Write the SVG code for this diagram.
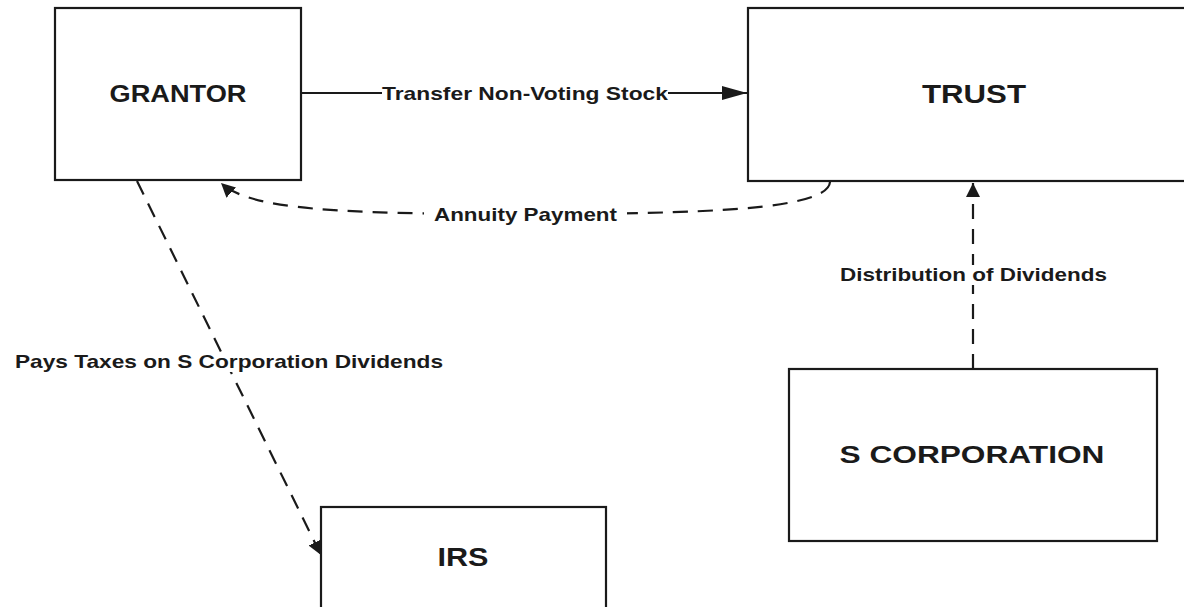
<svg xmlns="http://www.w3.org/2000/svg" width="1184" height="607" viewBox="0 0 1184 607">
<style>
.box{fill:#fff;stroke:#1a1a1a;stroke-width:2.2}
.lbl{font-family:"Liberation Sans",Arial,sans-serif;font-weight:bold;fill:#1a1a1a}
.node{text-anchor:middle}
.edge{fill:none;stroke:#1a1a1a;stroke-width:2.2}
.dash{stroke-dasharray:15 10}
.bg{fill:#fff}
</style>
<defs>
<marker id="arrowLong" markerUnits="userSpaceOnUse" markerWidth="26" markerHeight="16" refX="25" refY="7" orient="auto">
<path d="M0,0 L25,7 L0,14 Z" fill="#1a1a1a"/>
</marker>
<marker id="arrow" markerUnits="userSpaceOnUse" markerWidth="16" markerHeight="16" refX="14" refY="7" orient="auto">
<path d="M0,0 L14,7 L0,14 Z" fill="#1a1a1a"/>
</marker>
</defs>
<rect width="1184" height="607" fill="#fff"/>
<g id="grantor">
<rect class="box" x="55" y="8" width="246" height="172"/>
<text class="lbl node" x="178" y="102" font-size="23" textLength="137" lengthAdjust="spacingAndGlyphs">GRANTOR</text>
</g>
<g id="trust">
<rect class="box" x="748" y="8" width="450" height="173"/>
<text class="lbl node" x="974" y="103" font-size="26" textLength="104" lengthAdjust="spacingAndGlyphs">TRUST</text>
</g>
<g id="scorp">
<rect class="box" x="789" y="369" width="368" height="172"/>
<text class="lbl node" x="972" y="463" font-size="24" textLength="265" lengthAdjust="spacingAndGlyphs">S CORPORATION</text>
</g>
<g id="irs">
<rect class="box" x="321" y="507" width="285" height="110"/>
<text class="lbl node" x="463" y="566" font-size="26" textLength="51" lengthAdjust="spacingAndGlyphs">IRS</text>
</g>
<g id="connectors">
<line class="edge" x1="301" y1="93" x2="747" y2="93" marker-end="url(#arrowLong)"/>
<rect class="bg" x="382" y="84" width="286" height="20"/>
<text class="lbl" x="382" y="100" font-size="19" textLength="286" lengthAdjust="spacingAndGlyphs">Transfer Non-Voting Stock</text>

<path class="edge dash" d="M830,182 C828,210 700,214 525,214 C340,214 250,210 221,183" marker-end="url(#arrow)"/>
<rect class="bg" x="424" y="204" width="203" height="22"/>
<text class="lbl" x="434" y="221" font-size="19" textLength="183" lengthAdjust="spacingAndGlyphs">Annuity Payment</text>

<line class="edge dash" x1="973" y1="369" x2="973" y2="183" marker-end="url(#arrow)"/>
<rect class="bg" x="838" y="265" width="271" height="20"/>
<text class="lbl" x="840" y="281" font-size="18.5" textLength="267" lengthAdjust="spacingAndGlyphs">Distribution of Dividends</text>

<line class="edge dash" x1="137" y1="181" x2="321" y2="555" marker-end="url(#arrow)"/>
<rect class="bg" x="13" y="352" width="432" height="20"/>
<text class="lbl" x="15" y="368" font-size="18.5" textLength="428" lengthAdjust="spacingAndGlyphs">Pays Taxes on S Corporation Dividends</text>
</g>
</svg>
